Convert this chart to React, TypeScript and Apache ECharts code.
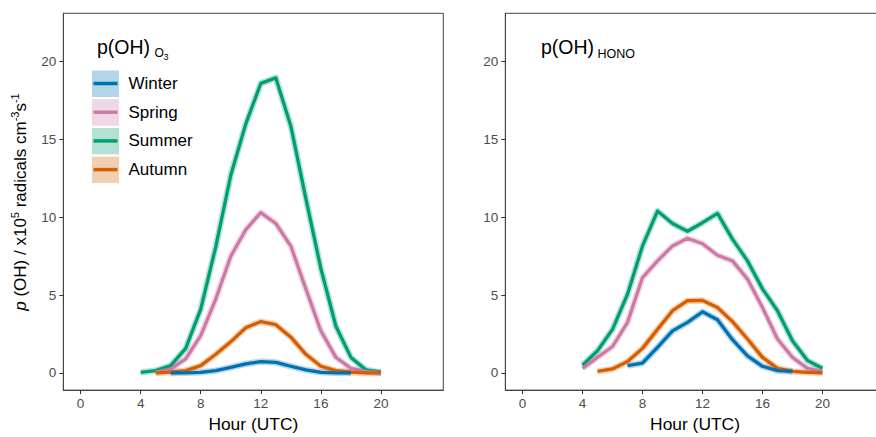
import React, { useEffect, useRef } from "react";
import * as echarts from "echarts";

// ---- data ----
const seasons = ["Winter", "Spring", "Summer", "Autumn"];
const lineColors = ["#0072B2", "#CC79A7", "#009E73", "#D55E00"];
const ribbonColors = ["#B3D5E8", "#F0D7E5", "#B3E2D5", "#F2CFB3"];

const xTicks = [0, 4, 8, 12, 16, 20];
const yTicks = [0, 5, 10, 15, 20];

// p(OH) from O3 photolysis (x10^5 radicals cm-3 s-1), first hour of each series
const o3StartHours = [6, 5, 4, 5];
const o3Winter = [0, 0.01, 0.04, 0.15, 0.36, 0.58, 0.73, 0.68, 0.43, 0.2, 0.04, 0.01, 0];
const o3Spring = [0.05, 0.25, 0.9, 2.4, 4.75, 7.5, 9.2, 10.3, 9.6, 8.15, 5.4, 2.7, 1.0, 0.3, 0.1, 0];
const o3Summer = [0.04, 0.15, 0.47, 1.58, 4.1, 8.1, 12.7, 16.0, 18.6, 18.95, 15.85, 11.2, 6.7, 3.0, 1.0, 0.2, 0.05];
const o3Autumn = [0, 0.05, 0.15, 0.47, 1.2, 2.0, 2.9, 3.3, 3.1, 2.3, 1.2, 0.43, 0.15, 0.05, 0, 0];

// p(OH) from HONO photolysis
const honoStartHours = [7, 4, 4, 5];
const honoWinter = [0.47, 0.64, 1.65, 2.7, 3.25, 3.93, 3.42, 2.14, 1.1, 0.43, 0.15, 0.1];
const honoSpring = [0.3, 1.0, 1.7, 3.25, 6.13, 7.2, 8.16, 8.65, 8.3, 7.56, 7.2, 6.03, 4.2, 2.18, 1.0, 0.3, 0.1];
const honoSummer = [0.5, 1.43, 2.8, 5.06, 8.16, 10.4, 9.6, 9.1, 9.65, 10.25, 8.6, 7.2, 5.4, 4.0, 2.07, 0.8, 0.3];
const honoAutumn = [0.1, 0.26, 0.73, 1.58, 2.8, 4.0, 4.64, 4.66, 4.2, 3.3, 2.18, 1.0, 0.3, 0.1, 0.04, 0];

const o3Values = [o3Winter, o3Spring, o3Summer, o3Autumn];
const honoValues = [honoWinter, honoSpring, honoSummer, honoAutumn];

const FONT = "'Liberation Sans', Arial, Helvetica, sans-serif";

function pairs(start: number, vals: number[]) {
  return vals.map((v, i) => [start + i, v]);
}

function makeAxes(gridIndex: number) {
  const x = {
    gridIndex,
    type: "value",
    min: -1.15,
    max: 24.15,
    axisLine: { show: true, onZero: false, lineStyle: { color: "#444", width: 1 } },
    axisTick: { show: true, customValues: xTicks, length: 4, lineStyle: { color: "#333", width: 1 } },
    axisLabel: { customValues: xTicks, color: "#4D4D4D", fontSize: 13.5, fontFamily: FONT, margin: 6 },
    splitLine: { show: false },
    name: "Hour (UTC)",
    nameLocation: "middle",
    nameGap: 24,
    nameTextStyle: { fontSize: 17.4, color: "#000", fontFamily: FONT },
  };
  const y = {
    gridIndex,
    type: "value",
    min: -1.1,
    max: 23.1,
    axisLine: { show: true, onZero: false, lineStyle: { color: "#444", width: 1 } },
    axisTick: { show: true, customValues: yTicks, length: 4, lineStyle: { color: "#333", width: 1 } },
    axisLabel: { customValues: yTicks, color: "#4D4D4D", fontSize: 13.5, fontFamily: FONT, margin: 7 },
    splitLine: { show: false },
  };
  return { x, y };
}

export default function App() {
  const ref = useRef<HTMLDivElement>(null);

  useEffect(() => {
    if (!ref.current) return;
    const chart = echarts.init(ref.current, undefined, { renderer: "svg" });

    const a0 = makeAxes(0);
    const a1 = makeAxes(1);

    const series: any[] = [];
    const panels = [
      { idx: 0, starts: o3StartHours, values: o3Values },
      { idx: 1, starts: honoStartHours, values: honoValues },
    ];
    // ribbons (halo) first
    panels.forEach((p) => {
      p.values.forEach((vals, s) => {
        series.push({
          type: "line",
          name: seasons[s] + " band",
          xAxisIndex: p.idx,
          yAxisIndex: p.idx,
          data: pairs(p.starts[s], vals),
          showSymbol: false,
          silent: true,
          z: 1,
          lineStyle: { color: lineColors[s], width: 6.5, opacity: 0.28, join: "round" },
        });
      });
    });
    const order = [2, 1, 3, 0];
    panels.forEach((p) => {
      order.forEach((s) => {
        series.push({
          type: "line",
          name: seasons[s],
          xAxisIndex: p.idx,
          yAxisIndex: p.idx,
          data: pairs(p.starts[s], p.values[s]),
          showSymbol: false,
          z: 3,
          lineStyle: { color: lineColors[s], width: 3.3, join: "round", cap: "butt" },
          itemStyle: { color: lineColors[s] },
        });
      });
    });

    const legendItems: any[] = [];
    seasons.forEach((s, i) => {
      const top = 70.5 + 28.7 * i;
      const cy = top + 13;
      legendItems.push(
        { type: "rect", shape: { x: 92, y: top, width: 27, height: 26.5 }, style: { fill: ribbonColors[i] } },
        { type: "line", shape: { x1: 93.5, y1: cy, x2: 117.5, y2: cy }, style: { stroke: lineColors[i], lineWidth: 3.5 } },
        {
          type: "text",
          x: 128.5,
          y: cy,
          style: { text: s, fontSize: 17, fontFamily: FONT, fill: "#000", verticalAlign: "middle", align: "left" },
        }
      );
    });

    const option: any = {
      animation: false,
      backgroundColor: "#fff",
      grid: [
        { left: 63.3, top: 13.3, width: 380, height: 377.7, show: true, borderColor: "#444", borderWidth: 1, backgroundColor: "transparent" },
        { left: 505.3, top: 13.3, width: 379.4, height: 377.7, show: true, borderColor: "#444", borderWidth: 1, backgroundColor: "transparent" },
      ],
      xAxis: [a0.x, a1.x],
      yAxis: [a0.y, a1.y],
      series,
      graphic: [
        // panel titles
        { type: "text", x: 97, y: 47, style: { text: "p(OH)", fontSize: 19.5, fontFamily: FONT, fill: "#000", verticalAlign: "middle" } },
        { type: "text", x: 154.5, y: 53, style: { text: "O", fontSize: 12, fontFamily: FONT, fill: "#000", verticalAlign: "middle" } },
        { type: "text", x: 163.5, y: 57, style: { text: "3", fontSize: 9, fontFamily: FONT, fill: "#000", verticalAlign: "middle" } },
        { type: "text", x: 541, y: 47, style: { text: "p(OH)", fontSize: 19.5, fontFamily: FONT, fill: "#000", verticalAlign: "middle" } },
        { type: "text", x: 597.5, y: 53.5, style: { text: "HONO", fontSize: 12.5, fontFamily: FONT, fill: "#000", verticalAlign: "middle" } },
        // y axis title
        {
          type: "text",
          x: 20,
          y: 202,
          rotation: Math.PI / 2,
          style: {
            text: "{i|p} (OH) / x10{s|5} radicals cm{s|-3}s{s|-1}",
            fontSize: 17,
            fontFamily: FONT,
            fill: "#000",
            align: "center",
            verticalAlign: "middle",
            rich: {
              i: { fontSize: 17, fontStyle: "italic", fontFamily: FONT, lineHeight: 22, fill: "#000" },
              s: { fontSize: 11, fontFamily: FONT, verticalAlign: "top", lineHeight: 22, fill: "#000" },
            },
          },
        },
        ...legendItems,
      ],
    };
    chart.setOption(option);
    return () => chart.dispose();
  }, []);

  return (
    <div
      ref={ref}
      style={{ position: "fixed", left: 0, top: 0, width: 900, height: 437, background: "#fff" }}
    />
  );
}
